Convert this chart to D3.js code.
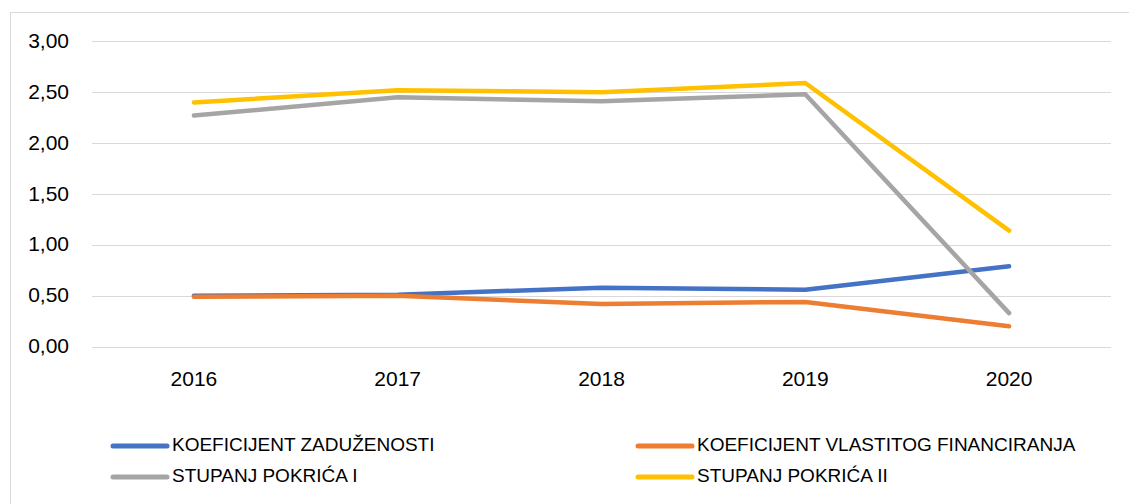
<!DOCTYPE html>
<html>
<head>
<meta charset="utf-8">
<script src="https://cdn.jsdelivr.net/npm/d3@7"></script>
<style>
  html, body { margin: 0; padding: 0; background: #fff; }
  svg { display: block; font-family: "Liberation Sans", Arial, sans-serif; }
</style>
</head>
<body>
<div id="chart"></div>
<script>
'use strict'

// the data
const years = ['2016', '2017', '2018', '2019', '2020']
const zaduzenost = [0.50, 0.51, 0.58, 0.56, 0.79]
const vlastitoFin = [0.49, 0.50, 0.42, 0.44, 0.20]
const pokrica1 = [2.27, 2.45, 2.41, 2.48, 0.33]
const pokrica2 = [2.40, 2.52, 2.50, 2.59, 1.14]
const yTicks = [0, 0.5, 1, 1.5, 2, 2.5, 3]

const series = [
    { name: 'KOEFICIJENT ZADUŽENOSTI', values: zaduzenost, color: '#4472C4' },
    { name: 'KOEFICIJENT VLASTITOG FINANCIRANJA', values: vlastitoFin, color: '#ED7D31' },
    { name: 'STUPANJ POKRIĆA I', values: pokrica1, color: '#A5A5A5' },
    { name: 'STUPANJ POKRIĆA II', values: pokrica2, color: '#FFC000' }
]

const W = 1129, H = 504
const svg = d3.select('#chart').append('svg')
    .attr('width', W)
    .attr('height', H)

// chart frame
svg.append('rect')
    .attr('x', 10.5).attr('y', 12.5)
    .attr('width', W + 20).attr('height', H + 20)
    .attr('fill', 'none')
    .attr('stroke', '#D9D9D9')

const x = d3.scalePoint().domain(years).range([92, 1111]).padding(0.5)
const y = d3.scaleLinear().domain([0, 3]).range([346.7, 41.3])

// gridlines
svg.append('g')
    .selectAll('line')
    .data(yTicks)
    .join('line')
    .attr('x1', 92).attr('x2', 1111)
    .attr('y1', d => Math.round(y(d)) + 0.5)
    .attr('y2', d => Math.round(y(d)) + 0.5)
    .attr('stroke', '#D9D9D9')
    .attr('stroke-width', 1)

// y axis labels
const fmt = d => d3.format('.2f')(d).replace('.', ',')
svg.append('g')
    .selectAll('text')
    .data(yTicks)
    .join('text')
    .attr('x', 69)
    .attr('y', d => y(d) + 1)
    .attr('text-anchor', 'end')
    .attr('dominant-baseline', 'middle')
    .attr('font-size', 21)
    .attr('fill', '#000')
    .text(fmt)

// x axis labels
svg.append('g')
    .selectAll('text')
    .data(years)
    .join('text')
    .attr('x', d => x(d))
    .attr('y', 386)
    .attr('text-anchor', 'middle')
    .attr('font-size', 21)
    .attr('fill', '#000')
    .text(d => d)

// the lines
const valueline = d3.line()
    .x((d, i) => x(years[i]))
    .y(d => y(d))

svg.append('g')
    .selectAll('path')
    .data(series)
    .join('path')
    .attr('fill', 'none')
    .attr('stroke', d => d.color)
    .attr('stroke-width', 4.5)
    .attr('stroke-linecap', 'round')
    .attr('stroke-linejoin', 'round')
    .attr('d', d => valueline(d.values))

// legend
const legendPos = [[113, 446], [638, 446], [113, 477], [638, 477]]
const legend = svg.append('g')
    .selectAll('g')
    .data(series)
    .join('g')
    .attr('transform', (d, i) => `translate(${legendPos[i][0]},${legendPos[i][1]})`)

legend.append('line')
    .attr('x1', 0).attr('x2', 54)
    .attr('y1', 0).attr('y2', 0)
    .attr('stroke', d => d.color)
    .attr('stroke-width', 5)
    .attr('stroke-linecap', 'round')

legend.append('text')
    .attr('x', 59)
    .attr('y', 0)
    .attr('dominant-baseline', 'middle')
    .attr('font-size', 19)
    .attr('fill', '#000')
    .text(d => d.name)
</script>
</body>
</html>
